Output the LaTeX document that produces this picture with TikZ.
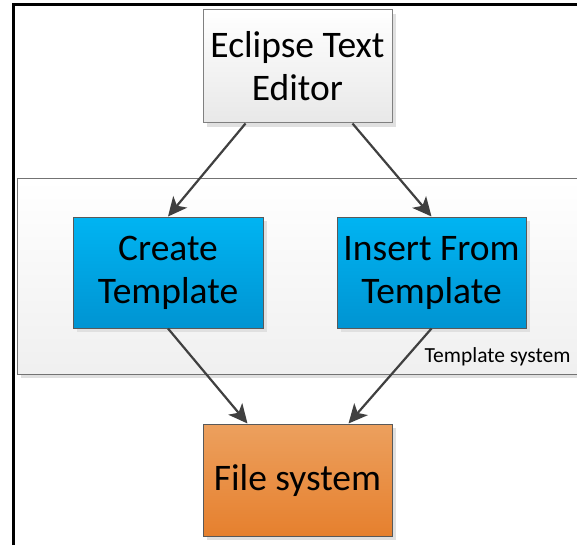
\documentclass[tikz,border=0pt]{standalone}
\usepackage{fontspec}
\setmainfont{Carlito}
\usetikzlibrary{arrows.meta,shadows}
\definecolor{arrowc}{HTML}{404040}
\definecolor{boxline}{HTML}{595959}
\definecolor{blueTop}{HTML}{00B4F2}
\definecolor{blueBot}{HTML}{0094D2}
\definecolor{orTop}{HTML}{ECA05E}
\definecolor{orBot}{HTML}{E6802E}
\tikzset{
  shad/.style={drop shadow={shadow xshift=4pt,shadow yshift=-4pt,fill=black!12,opacity=1}},
  bigtext/.style={font=\fontsize{37.5}{43}\selectfont},
  graybox/.style={draw=black!50,line width=1pt,top color=white,bottom color=black!9,shad,
    minimum width=189pt,minimum height=113pt,inner sep=0pt,align=center,bigtext},
  bluebox/.style={draw=boxline,line width=1pt,top color=blueTop,bottom color=blueBot,shad,
    minimum width=190pt,minimum height=111pt,inner sep=0pt,align=center,bigtext},
  orbox/.style={draw=boxline,line width=1pt,top color=orTop,bottom color=orBot,shad,
    minimum width=189pt,minimum height=112pt,inner sep=0pt,align=center,bigtext},
  conn/.style={draw=arrowc,line width=2.2pt,-{Stealth[length=19pt,width=18pt,inset=5pt]}},
}
\begin{document}
\begin{tikzpicture}[x=1pt,y=-1pt]
\useasboundingbox (0,0) rectangle (577,545);
\fill[white] (-10,-10) rectangle (590,560);
\draw[line width=3pt,line cap=butt] (13,545) -- (13,5) -- (577,5);
% template system container (open on the right, cut by the picture edge)
\fill[black!12] (21,183) rectangle (577,378);
\shade[top color=white,bottom color=black!6] (17,179) rectangle (577,374);
\draw[black!55,line width=1pt] (577,179) -- (17,179) -- (17,374) -- (577,374);
\node[anchor=base east,font=\fontsize{21.5}{24}\selectfont] (syslabel) at (574,362) {Template system};
\node[graybox] (ed) at (297.5,66.5) {Eclipse Text\\Editor};
\node[bluebox] (ct) at (168,272.5) {Create\\Template};
\node[bluebox,minimum width=189pt] (it) at (431.5,272.5) {Insert From\\Template};
\node[orbox] (fs) at (297.5,480) {File system};
\draw[conn] ([xshift=-52pt]ed.south) -- (ct.north);
\draw[conn] ([xshift=55pt]ed.south) -- (it.north);
\draw[conn] (ct.south) -- ([xshift=-50pt]fs.north);
\draw[conn] (it.south) -- ([xshift=51pt]fs.north);
\end{tikzpicture}
\end{document}
